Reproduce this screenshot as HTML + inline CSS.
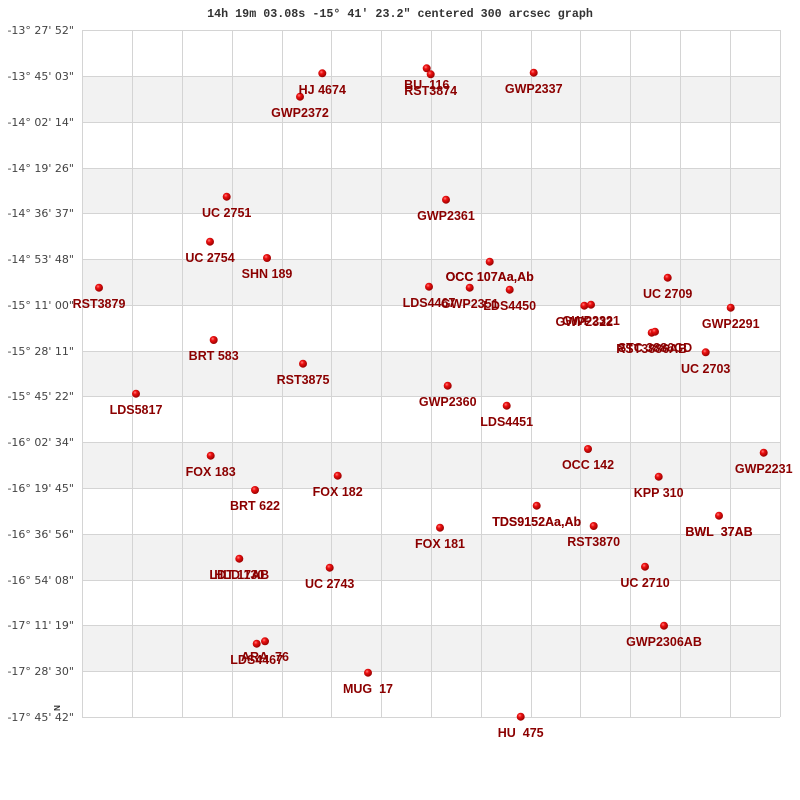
<!DOCTYPE html>
<html><head><meta charset="utf-8"><style>
html,body{margin:0;padding:0;background:#fff;}
svg{display:block;}
.yl{font-family:"DejaVu Sans","Liberation Sans",sans-serif;font-size:11px;fill:#444;}
.pl{font-family:"Liberation Sans",sans-serif;font-size:12.5px;font-weight:bold;fill:#8b0000;}
.t{font-family:"Liberation Mono","DejaVu Sans Mono",monospace;font-size:11.7px;font-weight:bold;fill:#333;}
</style></head><body>
<svg width="800" height="800" viewBox="0 0 800 800" xmlns="http://www.w3.org/2000/svg">
<defs>
<radialGradient id="g" cx="0.38" cy="0.35" r="0.65">
<stop offset="0" stop-color="#ff8080"/>
<stop offset="0.35" stop-color="#ee1111"/>
<stop offset="1" stop-color="#990000"/>
</radialGradient>
</defs>
<rect width="800" height="800" fill="#fff"/>
<text class="t" x="400" y="17" text-anchor="middle">14h 19m 03.08s -15° 41′ 23.2" centered 300 arcsec graph</text>
<g fill="#f2f2f2">
<rect x="82" y="76" width="698" height="46"/>
<rect x="82" y="168" width="698" height="46"/>
<rect x="82" y="259" width="698" height="46"/>
<rect x="82" y="351" width="698" height="46"/>
<rect x="82" y="442" width="698" height="46"/>
<rect x="82" y="534" width="698" height="46"/>
<rect x="82" y="625" width="698" height="46"/>
</g>
<g stroke="#d4d4d4" stroke-width="1" shape-rendering="crispEdges">
<line x1="82" y1="30.5" x2="780" y2="30.5"/>
<line x1="82" y1="76.5" x2="780" y2="76.5"/>
<line x1="82" y1="122.5" x2="780" y2="122.5"/>
<line x1="82" y1="168.5" x2="780" y2="168.5"/>
<line x1="82" y1="213.5" x2="780" y2="213.5"/>
<line x1="82" y1="259.5" x2="780" y2="259.5"/>
<line x1="82" y1="305.5" x2="780" y2="305.5"/>
<line x1="82" y1="351.5" x2="780" y2="351.5"/>
<line x1="82" y1="396.5" x2="780" y2="396.5"/>
<line x1="82" y1="442.5" x2="780" y2="442.5"/>
<line x1="82" y1="488.5" x2="780" y2="488.5"/>
<line x1="82" y1="534.5" x2="780" y2="534.5"/>
<line x1="82" y1="580.5" x2="780" y2="580.5"/>
<line x1="82" y1="625.5" x2="780" y2="625.5"/>
<line x1="82" y1="671.5" x2="780" y2="671.5"/>
<line x1="82" y1="717.5" x2="780" y2="717.5"/>
<line x1="82.5" y1="30" x2="82.5" y2="717"/>
<line x1="132.5" y1="30" x2="132.5" y2="717"/>
<line x1="182.5" y1="30" x2="182.5" y2="717"/>
<line x1="232.5" y1="30" x2="232.5" y2="717"/>
<line x1="282.5" y1="30" x2="282.5" y2="717"/>
<line x1="331.5" y1="30" x2="331.5" y2="717"/>
<line x1="381.5" y1="30" x2="381.5" y2="717"/>
<line x1="431.5" y1="30" x2="431.5" y2="717"/>
<line x1="481.5" y1="30" x2="481.5" y2="717"/>
<line x1="531.5" y1="30" x2="531.5" y2="717"/>
<line x1="580.5" y1="30" x2="580.5" y2="717"/>
<line x1="630.5" y1="30" x2="630.5" y2="717"/>
<line x1="680.5" y1="30" x2="680.5" y2="717"/>
<line x1="730.5" y1="30" x2="730.5" y2="717"/>
<line x1="780.5" y1="30" x2="780.5" y2="717"/>
</g>
<g class="yl" text-anchor="end">
<text x="74" y="34">-13° 27' 52"</text>
<text x="74" y="80">-13° 45' 03"</text>
<text x="74" y="126">-14° 02' 14"</text>
<text x="74" y="172">-14° 19' 26"</text>
<text x="74" y="217">-14° 36' 37"</text>
<text x="74" y="263">-14° 53' 48"</text>
<text x="74" y="309">-15° 11' 00"</text>
<text x="74" y="355">-15° 28' 11"</text>
<text x="74" y="400">-15° 45' 22"</text>
<text x="74" y="446">-16° 02' 34"</text>
<text x="74" y="492">-16° 19' 45"</text>
<text x="74" y="538">-16° 36' 56"</text>
<text x="74" y="584">-16° 54' 08"</text>
<text x="74" y="629">-17° 11' 19"</text>
<text x="74" y="675">-17° 28' 30"</text>
<text x="74" y="721">-17° 45' 42"</text>
</g>
<text x="0" y="0" transform="translate(54,708) rotate(90)" text-anchor="middle" font-family="Liberation Sans,sans-serif" font-weight="bold" font-size="8" fill="#333">N</text>
<g fill="url(#g)">
<circle cx="322.3" cy="73.3" r="4"/>
<circle cx="300" cy="96.7" r="4"/>
<circle cx="426.7" cy="68.3" r="4"/>
<circle cx="430.7" cy="74.3" r="4"/>
<circle cx="533.7" cy="72.7" r="4"/>
<circle cx="226.7" cy="196.7" r="4"/>
<circle cx="446" cy="199.7" r="4"/>
<circle cx="210" cy="241.7" r="4"/>
<circle cx="267" cy="258" r="4"/>
<circle cx="99" cy="287.7" r="4"/>
<circle cx="489.7" cy="261.7" r="4"/>
<circle cx="429" cy="286.7" r="4"/>
<circle cx="469.7" cy="287.7" r="4"/>
<circle cx="509.7" cy="289.7" r="4"/>
<circle cx="667.7" cy="277.7" r="4"/>
<circle cx="584.3" cy="305.7" r="4"/>
<circle cx="591" cy="304.7" r="4"/>
<circle cx="730.7" cy="307.7" r="4"/>
<circle cx="651.7" cy="332.7" r="4"/>
<circle cx="655" cy="331.7" r="4"/>
<circle cx="705.7" cy="352.3" r="4"/>
<circle cx="213.7" cy="340" r="4"/>
<circle cx="303" cy="363.7" r="4"/>
<circle cx="136" cy="393.7" r="4"/>
<circle cx="447.7" cy="385.7" r="4"/>
<circle cx="506.7" cy="405.7" r="4"/>
<circle cx="588" cy="449" r="4"/>
<circle cx="763.7" cy="452.7" r="4"/>
<circle cx="210.7" cy="455.7" r="4"/>
<circle cx="337.7" cy="475.7" r="4"/>
<circle cx="658.7" cy="476.7" r="4"/>
<circle cx="255" cy="490" r="4"/>
<circle cx="536.7" cy="505.7" r="4"/>
<circle cx="719" cy="515.7" r="4"/>
<circle cx="593.7" cy="526" r="4"/>
<circle cx="440" cy="527.7" r="4"/>
<circle cx="239.3" cy="558.7" r="4"/>
<circle cx="329.7" cy="567.7" r="4"/>
<circle cx="645" cy="566.7" r="4"/>
<circle cx="664" cy="625.7" r="4"/>
<circle cx="256.7" cy="643.7" r="4"/>
<circle cx="265" cy="641.3" r="4"/>
<circle cx="368" cy="672.7" r="4"/>
<circle cx="520.7" cy="716.7" r="4"/>
</g>
<g class="pl" text-anchor="middle">
<text x="322.3" y="94">HJ 4674</text>
<text x="300" y="117">GWP2372</text>
<text x="426.7" y="89">BU&#160;&#160;116</text>
<text x="430.7" y="95">RST3874</text>
<text x="533.7" y="93">GWP2337</text>
<text x="226.7" y="217">UC 2751</text>
<text x="446" y="220">GWP2361</text>
<text x="210" y="262">UC 2754</text>
<text x="267" y="278">SHN 189</text>
<text x="99" y="308">RST3879</text>
<text x="489.7" y="281">OCC 107Aa,Ab</text>
<text x="489.7" y="281">OCC 107Aa,Ab</text>
<text x="429" y="307">LDS4467</text>
<text x="469.7" y="308">GWP2351</text>
<text x="509.7" y="310">LDS4450</text>
<text x="667.7" y="298">UC 2709</text>
<text x="584.3" y="326">GWP2322</text>
<text x="591" y="325">GWP2321</text>
<text x="730.7" y="328">GWP2291</text>
<text x="651.7" y="353">RST3886AB</text>
<text x="655" y="352">STC 3886CD</text>
<text x="705.7" y="373">UC 2703</text>
<text x="213.7" y="360">BRT 583</text>
<text x="303" y="384">RST3875</text>
<text x="136" y="414">LDS5817</text>
<text x="447.7" y="406">GWP2360</text>
<text x="506.7" y="426">LDS4451</text>
<text x="588" y="469">OCC 142</text>
<text x="763.7" y="473">GWP2231</text>
<text x="210.7" y="476">FOX 183</text>
<text x="337.7" y="496">FOX 182</text>
<text x="658.7" y="497">KPP 310</text>
<text x="255" y="510">BRT 622</text>
<text x="536.7" y="526">TDS9152Aa,Ab</text>
<text x="536.7" y="526">TDS9152Aa,Ab</text>
<text x="719" y="536">BWL&#160;&#160;37AB</text>
<text x="719" y="536">BWL&#160;&#160;37AB</text>
<text x="593.7" y="546">RST3870</text>
<text x="440" y="548">FOX 181</text>
<text x="239.3" y="579">HLD 130</text>
<text x="239.3" y="579">LDT 17AB</text>
<text x="329.7" y="588">UC 2743</text>
<text x="645" y="587">UC 2710</text>
<text x="664" y="646">GWP2306AB</text>
<text x="256.7" y="664">LDS4467</text>
<text x="265" y="661">ARA&#160;&#160;76</text>
<text x="368" y="693">MUG&#160;&#160;17</text>
<text x="520.7" y="737">HU&#160;&#160;475</text>
</g>
</svg>
</body></html>
